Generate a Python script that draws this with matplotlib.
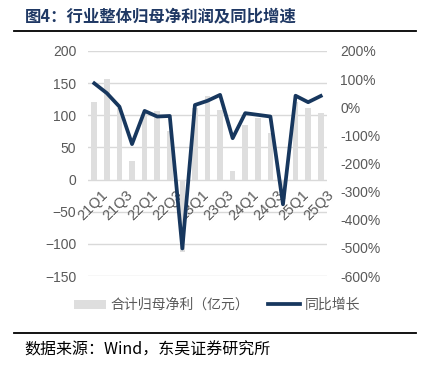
import numpy as np
import matplotlib
matplotlib.use("Agg")
from matplotlib import pyplot as plt
from matplotlib.patches import Patch
from matplotlib.lines import Line2D

plt.rcParams['font.family'] = ['Liberation Sans', 'Noto Sans CJK SC', 'DejaVu Sans']

quarters = ["21Q1", "21Q2", "21Q3", "21Q4", "22Q1", "22Q2", "22Q3", "22Q4",
            "23Q1", "23Q2", "23Q3", "23Q4", "24Q1", "24Q2", "24Q3", "24Q4",
            "25Q1", "25Q2", "25Q3"]
# 合计归母净利（亿元）
net_profit = [121, 157, 112, 29.5, 103, 106, 75, -113, 112, 130, 108, 13,
              85, 95, 72, -30, 120, 111, 103]
# 同比增长 (%)
yoy = [85, 50, 2, -131, -13, -33, -31, -502, 8, 23, 44, -110, -21, -27,
       -33, -345, 41, 18, 40]

grey = '#595959'
navy = '#17375E'
bar_col = '#DEDEDE'

W, H = 428, 369
fig = plt.figure(figsize=(W/100, H/100), dpi=100)

ax = fig.add_axes([88/W, 1-276/H, (327-88)/W, (276-51)/H])
x = np.arange(len(quarters))
ax.bar(x, net_profit, width=0.45, color=bar_col, zorder=2)
ax.set_xlim(-0.5, len(quarters)-0.5)
ax.set_ylim(-150, 200)
ax.set_yticks(np.arange(-150, 201, 50))
ax.yaxis.grid(True, color='#D9D9D9', lw=1, zorder=0)
ax.set_axisbelow(True)
ax.tick_params(axis='y', length=0, pad=8.5, labelsize=10, labelcolor=grey)
ax.set_xticks([])
for s in ax.spines.values():
    s.set_visible(False)

# category labels sit at the zero line, rotated
for i in range(0, len(quarters), 2):
    ax.text(i+0.5, -13, quarters[i], rotation=45, ha='right', va='top',
            rotation_mode='anchor', fontsize=10.5, color=grey, zorder=1)

ax2 = ax.twinx()
ax2.plot(x, yoy, color=navy, lw=2.7, zorder=3)
ax2.set_ylim(-600, 200)
ax2.set_yticks(np.arange(-600, 201, 100))
ax2.set_yticklabels([f"{v}%" for v in range(-600, 201, 100)])
ax2.tick_params(axis='y', length=0, pad=9.5, labelsize=10, labelcolor=grey)
for s in ax2.spines.values():
    s.set_visible(False)

handles = [Patch(facecolor=bar_col, edgecolor='none'),
           Line2D([0], [0], color=navy, lw=2.7)]
leg = fig.legend(handles, ["合计归母净利（亿元）", "同比增长"], ncol=2,
                 loc='center', bbox_to_anchor=(217/W, 1-305/H), frameon=False,
                 handlelength=2.3, handleheight=0.6,
                 columnspacing=1.4, handletextpad=0.3,
                 prop={'family': ['Noto Sans CJK SC'], 'size': 10})
for t in leg.get_texts():
    t.set_color(grey)

fig.text(25/W, 1-16/H, "图4：行业整体归母净利润及同比增速", fontsize=11.8,
         fontweight='bold', color='#1F3864', va='center', ha='left',
         family=['Noto Sans CJK SC'])
fig.add_artist(Line2D([14/W, 416/W], [1-31/H, 1-31/H], color='black', lw=1.3))
fig.add_artist(Line2D([14/W, 416/W], [1-333/H, 1-333/H], color='black', lw=1.3))
fig.text(24/W, 1-350/H, "数据来源：Wind，东吴证券研究所", fontsize=11.5,
         color='black', va='center', ha='left',
         family=['Noto Sans CJK SC'])

fig.savefig("out.png", dpi=100)
